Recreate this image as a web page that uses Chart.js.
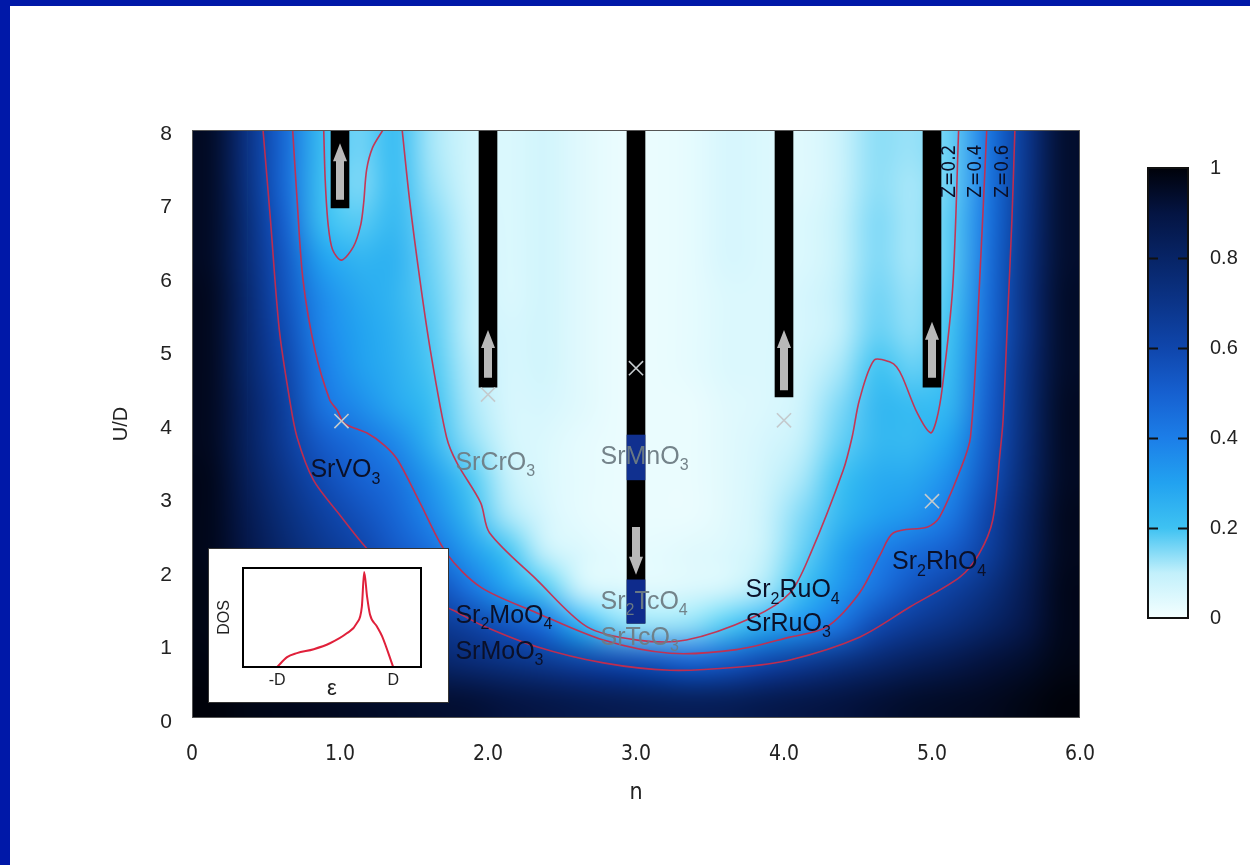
<!DOCTYPE html>
<html><head><meta charset="utf-8">
<script src="https://cdn.jsdelivr.net/npm/chart.js@4.4.1/dist/chart.umd.min.js"></script>
<style>
html,body{margin:0;padding:0;background:#fff;width:1250px;height:865px;overflow:hidden;}
#main{position:absolute;left:0;top:0;}
#frameTop{position:absolute;left:0;top:0;width:1250px;height:6px;background:#0018a8;}
#frameLeft{position:absolute;left:0;top:0;width:10px;height:865px;background:#0018a8;}
#insetBox{position:absolute;left:208px;top:548px;width:239px;height:153px;background:#fff;border:1px solid #333;}
#inset{position:absolute;left:0;top:0;}
#cb{position:absolute;left:1100px;top:140px;}
</style></head>
<body>
<canvas id="main" width="1250" height="865"></canvas>
<div id="insetBox"><canvas id="inset" width="239" height="153"></canvas></div>
<canvas id="cb" width="150" height="500"></canvas>
<div id="frameTop"></div><div id="frameLeft"></div>
<script>
// ---------------- DATA ----------------
const xTickValues = [0, 1, 2, 3, 4, 5, 6];
const xTickLabels = ['0', '1.0', '2.0', '3.0', '4.0', '5.0', '6.0'];
const yTickValues = [0, 1, 2, 3, 4, 5, 6, 7, 8];
const yTickLabels = ['0', '1', '2', '3', '4', '5', '6', '7', '8'];

// heat-map cells: column centres (n), row centres (U/D, top row first), Z values per row
const nCenters = [0.125,0.375,0.625,0.875,1.125,1.375,1.625,1.875,2.125,2.375,2.625,2.875,3.125,3.375,3.625,3.875,4.125,4.375,4.625,4.875,5.125,5.375,5.625,5.875];
const uCenters = [7.75,7.25,6.75,6.25,5.75,5.25,4.75,4.25,3.75,3.25,2.75,2.25,1.75,1.25,0.75,0.25];
const zU775 = [0.95,0.71,0.47,0.22,0.16,0.22,0.12,0.07,0.05,0.07,0.04,0.02,0.02,0.03,0.06,0.05,0.04,0.08,0.14,0.13,0.17,0.42,0.67,0.93];
const zU725 = [0.95,0.72,0.47,0.21,0.15,0.22,0.13,0.07,0.05,0.07,0.04,0.02,0.02,0.03,0.06,0.05,0.04,0.08,0.14,0.12,0.17,0.42,0.68,0.93];
const zU675 = [0.95,0.74,0.50,0.22,0.18,0.23,0.15,0.08,0.05,0.07,0.04,0.02,0.02,0.03,0.06,0.05,0.05,0.09,0.15,0.12,0.18,0.43,0.69,0.93];
const zU625 = [0.95,0.75,0.53,0.30,0.24,0.25,0.16,0.09,0.05,0.07,0.04,0.02,0.02,0.03,0.06,0.05,0.05,0.09,0.15,0.12,0.18,0.44,0.70,0.93];
const zU575 = [0.96,0.77,0.55,0.36,0.28,0.24,0.17,0.10,0.05,0.07,0.04,0.02,0.02,0.03,0.05,0.05,0.06,0.10,0.16,0.13,0.19,0.45,0.71,0.94];
const zU525 = [0.96,0.78,0.58,0.38,0.30,0.25,0.18,0.10,0.06,0.07,0.04,0.02,0.02,0.03,0.05,0.05,0.06,0.10,0.17,0.14,0.20,0.46,0.71,0.94];
const zU475 = [0.96,0.79,0.61,0.41,0.31,0.26,0.19,0.11,0.06,0.07,0.04,0.02,0.02,0.03,0.05,0.05,0.07,0.12,0.20,0.17,0.22,0.48,0.73,0.94];
const zU425 = [0.96,0.81,0.64,0.44,0.36,0.28,0.21,0.12,0.06,0.06,0.04,0.02,0.02,0.02,0.04,0.05,0.08,0.15,0.23,0.22,0.24,0.50,0.74,0.95];
const zU375 = [0.96,0.82,0.66,0.52,0.45,0.37,0.24,0.14,0.07,0.05,0.03,0.02,0.02,0.02,0.04,0.06,0.10,0.17,0.23,0.23,0.30,0.52,0.75,0.95];
const zU325 = [0.97,0.84,0.70,0.58,0.50,0.44,0.32,0.19,0.10,0.05,0.03,0.02,0.02,0.02,0.04,0.07,0.12,0.20,0.27,0.28,0.36,0.55,0.77,0.95];
const zU275 = [0.97,0.86,0.74,0.64,0.56,0.48,0.37,0.23,0.12,0.06,0.03,0.02,0.02,0.02,0.04,0.08,0.15,0.23,0.30,0.34,0.42,0.60,0.80,0.96];
const zU225 = [0.97,0.88,0.78,0.69,0.62,0.53,0.45,0.32,0.20,0.10,0.05,0.03,0.03,0.04,0.05,0.09,0.17,0.29,0.39,0.46,0.52,0.64,0.82,0.96];
const zU175 = [0.98,0.90,0.83,0.76,0.70,0.65,0.58,0.44,0.30,0.19,0.08,0.05,0.04,0.05,0.07,0.12,0.21,0.33,0.44,0.55,0.63,0.72,0.85,0.97];
const zU125 = [0.98,0.93,0.88,0.83,0.78,0.74,0.69,0.63,0.55,0.46,0.26,0.15,0.13,0.14,0.19,0.28,0.35,0.44,0.59,0.67,0.73,0.80,0.88,0.97];
const zU075 = [0.99,0.96,0.93,0.90,0.87,0.84,0.80,0.76,0.72,0.68,0.63,0.59,0.55,0.50,0.53,0.60,0.66,0.72,0.78,0.83,0.87,0.91,0.94,0.98];
const zU025 = [1.00,0.98,0.97,0.96,0.95,0.94,0.93,0.92,0.90,0.88,0.86,0.85,0.84,0.83,0.84,0.86,0.88,0.90,0.92,0.94,0.95,0.96,0.98,1.00];
const zRows = [zU775,zU725,zU675,zU625,zU575,zU525,zU475,zU425,zU375,zU325,zU275,zU225,zU175,zU125,zU075,zU025];

// colour map (Z -> colour)
const cmapValues = [0, 0.1, 0.2, 0.3, 0.4, 0.5, 0.6, 0.7, 0.8, 0.9, 1];
const cmapColors = ['#f4ffff','#c2f0fb','#3ec2f2','#22a2f0','#1c7ee8','#1660d0','#0f46ac','#0b3488','#072466','#041442','#00020a'];

// contour lines (n, U/D)
const z06N = [0.48,0.53,0.59,0.66,0.71,0.82,1.00,1.18,1.37,1.57,1.76,1.95,2.33,2.78,3.23,3.68,4.04,4.51,4.85,5.19,5.32,5.41,5.46,5.48,5.51,5.54,5.56];
const z06U = [8.00,6.78,5.28,4.33,3.82,3.24,2.76,2.31,1.95,1.63,1.47,1.27,0.97,0.75,0.65,0.69,0.79,1.10,1.51,1.92,2.24,2.69,3.61,4.05,5.41,6.78,8.00];
const z04N = [0.68,0.71,0.75,0.83,0.93,0.98,1.03,1.18,1.30,1.39,1.54,1.72,1.95,2.33,2.78,3.23,3.68,4.04,4.29,4.51,4.65,4.74,4.97,5.05,5.19,5.26,5.32,5.37];
const z04U = [8.00,7.05,5.96,5.01,4.33,4.19,4.01,3.88,3.71,3.51,2.93,2.24,1.78,1.43,1.06,0.88,0.93,1.10,1.24,1.70,2.22,2.52,2.60,2.73,3.37,3.82,5.86,8.00];
const z02N = [1.42,1.47,1.54,1.61,1.72,1.79,1.95,2.01,2.33,2.67,3.01,3.34,3.79,4.04,4.18,4.40,4.46,4.51,4.61,4.72,4.76,4.80,4.90,4.99,5.03,5.07,5.14,5.18];
const z02U = [8.00,7.05,5.96,5.01,3.82,3.47,2.93,2.52,1.88,1.24,1.06,1.06,1.37,1.70,2.24,3.37,3.82,4.33,4.87,4.84,4.78,4.64,4.15,3.88,4.05,4.50,5.86,8.00];
const z02LoopN = [0.89,0.90,0.92,0.95,1.01,1.09,1.14,1.16,1.18,1.22,1.29];
const z02LoopU = [8.00,7.32,6.71,6.37,6.23,6.41,6.71,7.01,7.46,7.76,8.00];

// black bars and coloured segments on the n=3 bar
const barN = [1, 2, 3, 4, 5];
const barLow = [6.94, 4.50, 1.29, 4.37, 4.50];
const barHigh = [8, 8, 8, 8, 8];
const segN = [3, 3];
const segLow = [3.24, 1.29];
const segHigh = [3.85, 1.88];

// arrows (n, from, to)
const arrowN = [1, 2, 3, 4, 5];
const arrowFrom = [7.05, 4.63, 2.60, 4.46, 4.63];
const arrowTo = [7.82, 5.28, 1.95, 5.28, 5.39];

// cross markers
const markN = [1.01, 2.00, 3.00, 4.00, 5.00];
const markU = [4.04, 4.40, 4.76, 4.05, 2.95];

// compound labels ( _x = subscript )
const labelTexts = ['SrVO_3','SrCrO_3','SrMnO_3','Sr_2TcO_4','SrTcO_3','Sr_2MoO_4','SrMoO_3','Sr_2RuO_4','SrRuO_3','Sr_2RhO_4'];
const labelN = [0.80, 1.78, 2.76, 2.76, 2.76, 1.78, 1.78, 3.74, 3.74, 4.73];
const labelU = [3.37, 3.47, 3.55, 1.58, 1.09, 1.39, 0.90, 1.74, 1.28, 2.12];
const labelGray = [false, true, true, true, true, false, false, false, false, false];

const zLabelText = ['Z=0.2', 'Z=0.4', 'Z=0.6'];
const zLabelN = [5.12, 5.30, 5.48];
const zLabelU = [7.44, 7.44, 7.44];

// inset DOS curve
const dosE = [-1.00,-0.83,-0.66,-0.37,-0.09,0.20,0.37,0.46,0.50,0.55,0.60,0.72,0.81,1.00];
const dosV = [0.00,0.10,0.14,0.18,0.24,0.34,0.44,0.61,0.96,0.71,0.53,0.41,0.31,0.00];
const dosTickValues = [-1, 1];
const dosTickLabels = ['-D', 'D'];

// colour bar ticks
const cbTickValues = [0, 0.2, 0.4, 0.6, 0.8, 1];
const cbTickLabels = ['0', '0.2', '0.4', '0.6', '0.8', '1'];

// ---------------- RENDER ----------------
const FONT = "'Liberation Sans', Arial, Helvetica, sans-serif";
const NARROW = "'Liberation Sans Narrow', 'DejaVu Sans Condensed', 'Liberation Sans', Arial, sans-serif";
Chart.defaults.font.family = FONT;
Chart.defaults.color = '#222';

function hexToRgb(h){ return [parseInt(h.substr(1,2),16), parseInt(h.substr(3,2),16), parseInt(h.substr(5,2),16)]; }
const cmapRgb = cmapColors.map(hexToRgb);
function cmap(z){
  z = Math.max(0, Math.min(1, z));
  for (let i = 0; i < cmapValues.length - 1; i++) {
    if (z <= cmapValues[i+1]) {
      const t = (z - cmapValues[i]) / (cmapValues[i+1] - cmapValues[i]);
      const a = cmapRgb[i], b = cmapRgb[i+1];
      return [0,1,2].map(k => Math.round(a[k] + (b[k]-a[k]) * t));
    }
  }
  return cmapRgb[cmapRgb.length-1];
}

const heatPlugin = {
  id: 'heat',
  beforeDatasetsDraw(chart){
    const {ctx, chartArea, scales:{x, y}} = chart;
    const cols = nCenters.length, rows = uCenters.length;
    const off = document.createElement('canvas');
    off.width = cols; off.height = rows;
    const octx = off.getContext('2d');
    const img = octx.createImageData(cols, rows);
    for (let r = 0; r < rows; r++) for (let c = 0; c < cols; c++) {
      const rgb = cmap(zRows[r][c]); const p = (r*cols + c)*4;
      img.data[p] = rgb[0]; img.data[p+1] = rgb[1]; img.data[p+2] = rgb[2]; img.data[p+3] = 255;
    }
    octx.putImageData(img, 0, 0);
    const dn = nCenters[1] - nCenters[0], du = uCenters[0] - uCenters[1];
    const x0 = x.getPixelForValue(nCenters[0] - dn/2), x1 = x.getPixelForValue(nCenters[cols-1] + dn/2);
    const y0 = y.getPixelForValue(uCenters[0] + du/2), y1 = y.getPixelForValue(uCenters[rows-1] - du/2);
    ctx.save();
    ctx.beginPath(); ctx.rect(chartArea.left, chartArea.top, chartArea.width, chartArea.height); ctx.clip();
    ctx.imageSmoothingEnabled = true; ctx.imageSmoothingQuality = 'high';
    ctx.drawImage(off, x0, y0, x1 - x0, y1 - y0);
    ctx.restore();
  }
};

function drawFormula(ctx, str, x, y, size, color){
  const parts = []; let i = 0;
  while (i < str.length) {
    if (str[i] === '_') { parts.push({t: str[i+1], sub: true}); i += 2; }
    else { let j = i; while (j < str.length && str[j] !== '_') j++; parts.push({t: str.slice(i, j), sub: false}); i = j; }
  }
  ctx.fillStyle = color; ctx.textBaseline = 'middle'; ctx.textAlign = 'left';
  let cx = x;
  for (const p of parts) {
    const fs = p.sub ? size * 0.64 : size;
    ctx.font = fs + 'px ' + FONT;
    ctx.fillText(p.t, cx, p.sub ? y + size * 0.36 : y);
    cx += ctx.measureText(p.t).width;
  }
}

const overlayPlugin = {
  id: 'overlay',
  afterDatasetsDraw(chart){
    const {ctx, chartArea, scales:{x, y}} = chart;
    ctx.save();
    // arrows
    ctx.fillStyle = '#b9b9b9';
    for (let i = 0; i < arrowN.length; i++) {
      const px = x.getPixelForValue(arrowN[i]);
      const ya = y.getPixelForValue(arrowFrom[i]), yb = y.getPixelForValue(arrowTo[i]);
      const dir = yb < ya ? -1 : 1, head = 18, hw = 7, sw = 4;
      const yh = yb - dir * head;
      ctx.beginPath();
      ctx.moveTo(px - sw, ya); ctx.lineTo(px - sw, yh); ctx.lineTo(px - hw, yh);
      ctx.lineTo(px, yb); ctx.lineTo(px + hw, yh); ctx.lineTo(px + sw, yh); ctx.lineTo(px + sw, ya);
      ctx.closePath(); ctx.fill();
    }
    // compound labels
    for (let i = 0; i < labelTexts.length; i++) {
      drawFormula(ctx, labelTexts[i], x.getPixelForValue(labelN[i]), y.getPixelForValue(labelU[i]), 25,
        labelGray[i] ? 'rgba(110,124,132,0.95)' : '#0b1028');
    }
    // Z labels (rotated)
    ctx.fillStyle = '#0b1028'; ctx.font = '19px ' + NARROW; ctx.textAlign = 'center'; ctx.textBaseline = 'middle';
    for (let i = 0; i < zLabelText.length; i++) {
      ctx.save();
      ctx.translate(x.getPixelForValue(zLabelN[i]), y.getPixelForValue(zLabelU[i]));
      ctx.rotate(-Math.PI/2);
      ctx.fillText(zLabelText[i], 0, 0);
      ctx.restore();
    }
    // plot frame
    ctx.strokeStyle = '#555'; ctx.lineWidth = 1;
    ctx.strokeRect(chartArea.left + 0.5, chartArea.top + 0.5, chartArea.width - 1, chartArea.height - 1);
    ctx.restore();
  }
};

const contourStyle = {type: 'scatter', showLine: true, pointRadius: 0, borderColor: 'rgba(205,42,72,0.92)', borderWidth: 1.6, tension: 0.3, fill: false, order: 5};
function pts(a, b){ return a.map((v, i) => ({x: v, y: b[i]})); }

new Chart(document.getElementById('main'), {
  type: 'scatter',
  data: {
    datasets: [
      {type: 'bar', data: barN.map((n, i) => ({x: n, y: [barLow[i], barHigh[i]]})), backgroundColor: '#000', barThickness: 18, grouped: false, order: 20},
      {type: 'bar', data: [{x: segN[0], y: [segLow[0], segHigh[0]]}], backgroundColor: '#10308f', barThickness: 18, grouped: false, order: 19},
      {type: 'bar', data: [{x: segN[1], y: [segLow[1], segHigh[1]]}], backgroundColor: '#0e2b8c', barThickness: 18, grouped: false, order: 18},
      Object.assign({data: pts(z06N, z06U)}, contourStyle),
      Object.assign({data: pts(z04N, z04U)}, contourStyle),
      Object.assign({data: pts(z02N, z02U)}, contourStyle),
      Object.assign({data: pts(z02LoopN, z02LoopU)}, contourStyle),
      {type: 'scatter', data: pts(markN, markU), pointStyle: 'crossRot', pointRadius: 10, borderColor: '#c4cacd', borderWidth: 1.6, order: 1}
    ]
  },
  options: {
    responsive: false, animation: false,
    layout: {padding: {left: 0, top: 130, right: 170, bottom: 0}},
    plugins: {legend: {display: false}, tooltip: {enabled: false}},
    scales: {
      x: {
        type: 'linear', min: 0, max: 6, offset: false,
        afterFit(s){ s.height = 147; },
        afterBuildTicks(s){ s.ticks = xTickValues.map(v => ({value: v})); },
        ticks: {callback: v => xTickLabels[xTickValues.indexOf(v)], font: {size: 21, family: NARROW}, color: '#222', padding: 24, maxRotation: 0, autoSkip: false},
        grid: {display: false, drawTicks: false}, border: {display: false},
        title: {display: true, text: 'n', font: {size: 23, family: NARROW}, color: '#222', padding: {top: 0, bottom: 58}}
      },
      y: {
        type: 'linear', min: 0, max: 8,
        afterFit(s){ s.width = 192; },
        afterBuildTicks(s){ s.ticks = yTickValues.map(v => ({value: v})); },
        ticks: {callback: v => yTickLabels[yTickValues.indexOf(v)], font: {size: 21}, color: '#222', padding: 20, autoSkip: false, labelOffset: 4},
        grid: {display: false, drawTicks: false}, border: {display: false},
        title: {display: true, text: 'U/D', font: {size: 20}, color: '#222', padding: {top: 109, bottom: 0}}
      }
    }
  },
  plugins: [heatPlugin, overlayPlugin]
});

// ---------- inset (DOS) ----------
const frameInset = {
  id: 'frameInset',
  afterDatasetsDraw(chart){
    const {ctx, chartArea: a} = chart;
    ctx.save(); ctx.strokeStyle = '#000'; ctx.lineWidth = 2;
    ctx.strokeRect(a.left, a.top, a.width, a.height); ctx.restore();
  }
};
new Chart(document.getElementById('inset'), {
  type: 'scatter',
  data: {datasets: [{data: pts(dosE, dosV), showLine: true, pointRadius: 0, borderColor: '#e0203a', borderWidth: 2, cubicInterpolationMode: 'monotone'}]},
  options: {
    responsive: false, animation: false,
    layout: {padding: {left: 0, top: 19, right: 27, bottom: 0}},
    plugins: {legend: {display: false}, tooltip: {enabled: false}},
    scales: {
      x: {
        type: 'linear', min: -1.59, max: 1.48,
        afterFit(s){ s.height = 35; },
        afterBuildTicks(s){ s.ticks = dosTickValues.map(v => ({value: v})); },
        ticks: {callback: v => dosTickLabels[dosTickValues.indexOf(v)], font: {size: 16}, color: '#222', padding: 4, maxRotation: 0, autoSkip: false},
        grid: {display: false, drawTicks: false}, border: {display: false},
        title: {display: true, text: 'ε', font: {size: 22}, color: '#222', padding: {top: 0, bottom: 0}}
      },
      y: {
        type: 'linear', min: 0, max: 1,
        afterFit(s){ s.width = 34; },
        ticks: {display: false},
        grid: {display: false, drawTicks: false}, border: {display: false},
        title: {display: true, text: 'DOS', font: {size: 16}, color: '#222', padding: {top: 6, bottom: 0}}
      }
    }
  },
  plugins: [frameInset]
});

// ---------- colour bar ----------
const cbPlugin = {
  id: 'cbar',
  beforeDatasetsDraw(chart){
    const {ctx, chartArea: a, scales: {y}} = chart;
    const g = ctx.createLinearGradient(0, y.getPixelForValue(0), 0, y.getPixelForValue(1));
    cmapValues.forEach((v, i) => g.addColorStop(v, cmapColors[i]));
    ctx.save();
    ctx.fillStyle = g; ctx.fillRect(a.left, a.top, a.width, a.height);
    ctx.strokeStyle = '#111'; ctx.lineWidth = 2;
    cbTickValues.forEach(v => {
      if (v <= 0 || v >= 1) return;
      const py = Math.round(y.getPixelForValue(v)) + 0.5;
      ctx.beginPath();
      ctx.moveTo(a.left, py); ctx.lineTo(a.left + 10, py);
      ctx.moveTo(a.right - 10, py); ctx.lineTo(a.right, py);
      ctx.stroke();
    });
    ctx.strokeRect(a.left, a.top, a.width, a.height);
    ctx.restore();
  }
};
new Chart(document.getElementById('cb'), {
  type: 'scatter',
  data: {datasets: []},
  options: {
    responsive: false, animation: false,
    layout: {padding: {left: 48, top: 28, right: 0, bottom: 22}},
    plugins: {legend: {display: false}, tooltip: {enabled: false}},
    scales: {
      x: {type: 'linear', display: false, min: 0, max: 1},
      y: {
        type: 'linear', position: 'right', min: 0, max: 1,
        afterFit(s){ s.width = 62; s.paddingTop = 0; s.paddingBottom = 0; },
        afterBuildTicks(s){ s.ticks = cbTickValues.map(v => ({value: v})); },
        ticks: {callback: v => cbTickLabels[cbTickValues.indexOf(v)], font: {size: 20}, color: '#222', padding: 22, autoSkip: false},
        grid: {display: false, drawTicks: false}, border: {display: false}
      }
    }
  },
  plugins: [cbPlugin]
});
</script>
</body></html>
